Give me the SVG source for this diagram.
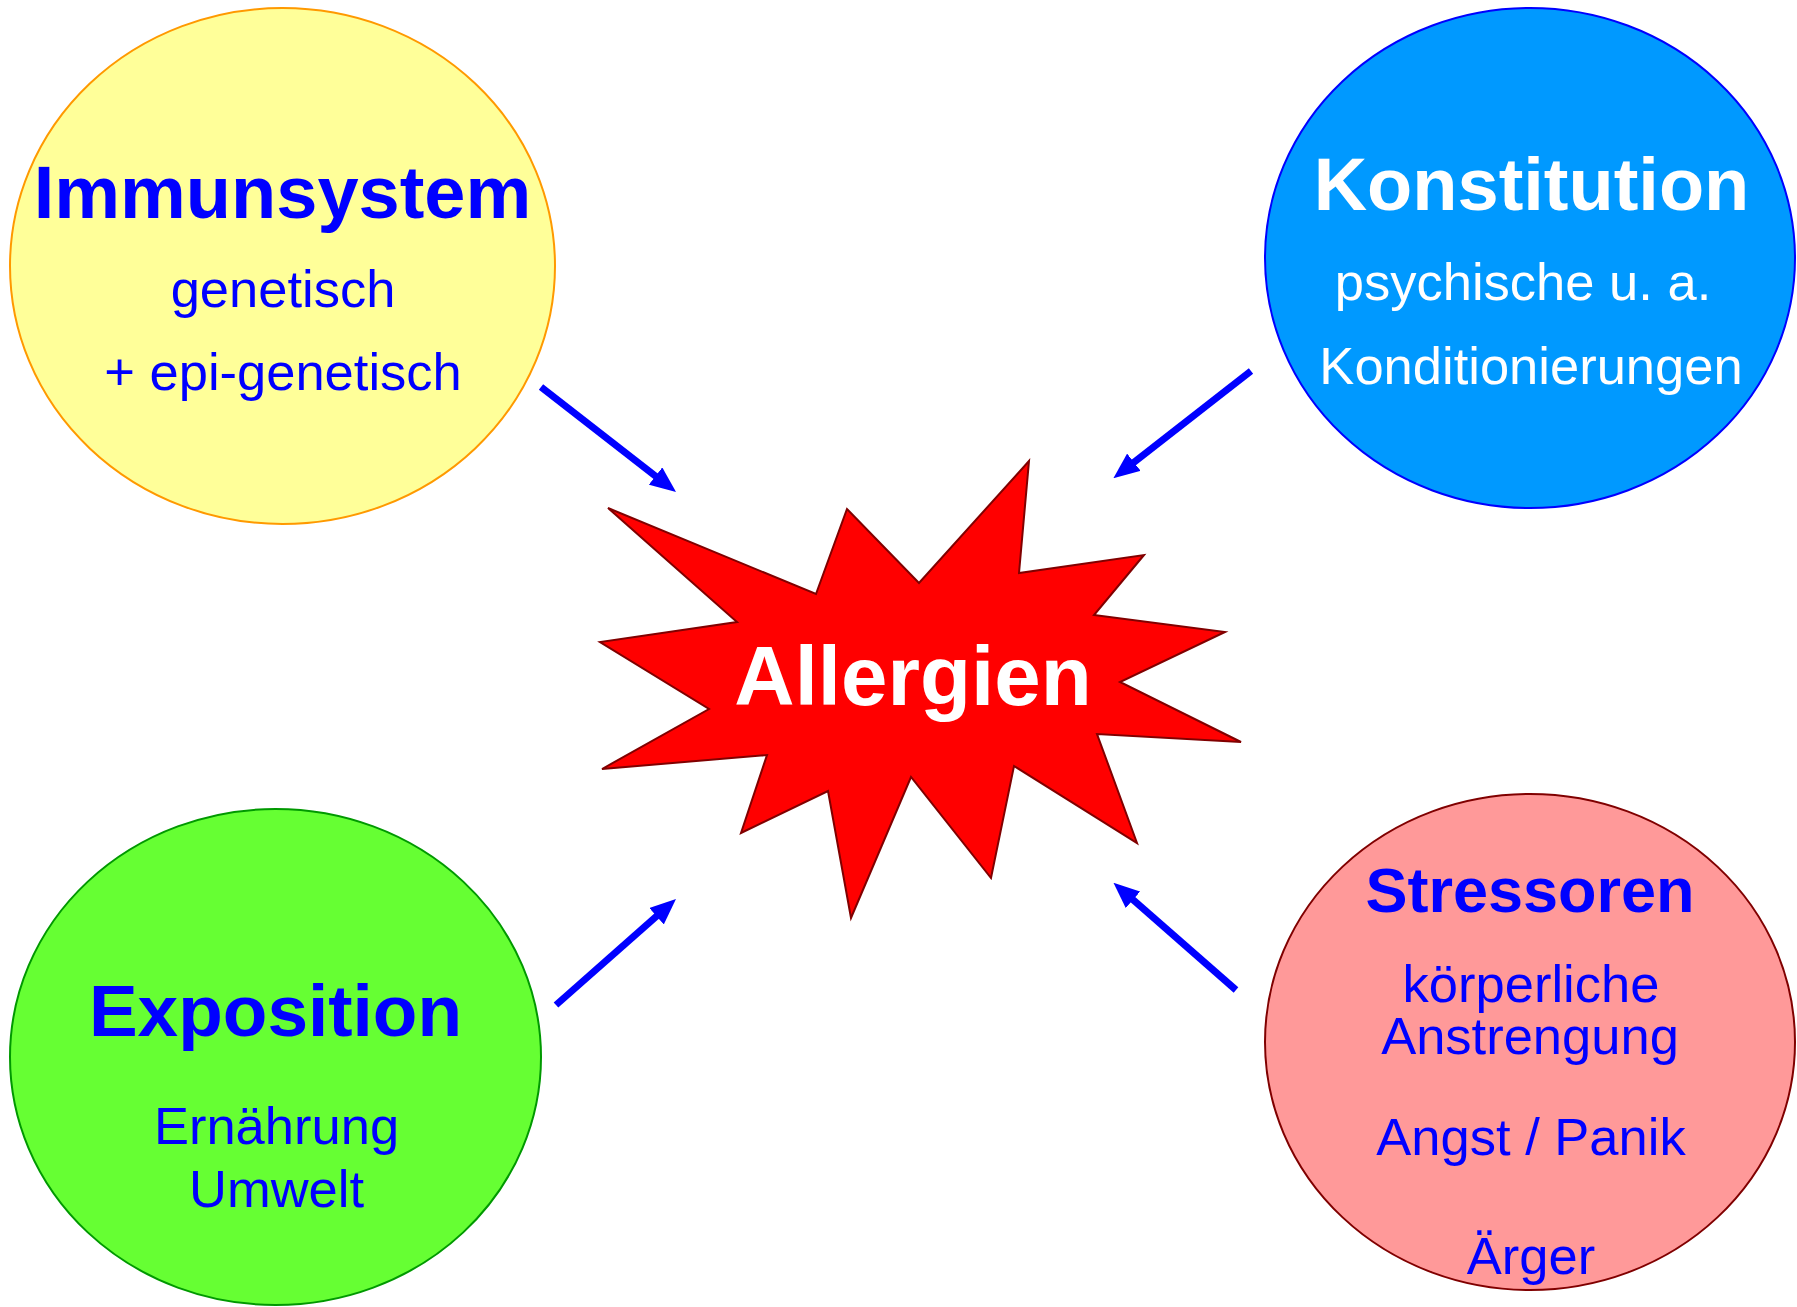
<svg xmlns="http://www.w3.org/2000/svg" width="1797" height="1307" viewBox="0 0 1797 1307">
<style>
text{font-family:"Liberation Sans",Arial,sans-serif;text-anchor:middle}
.t{font-weight:bold;font-size:74px}
.s{font-size:52.5px}
.b{fill:#0000FF}
.w{fill:#FFFFFF}
.arr{stroke:#0000FF;stroke-width:7;fill:none;marker-end:url(#ah)}
</style>
<defs>
<marker id="ah" viewBox="0 0 26 22" refX="10" refY="11" markerWidth="26" markerHeight="22" markerUnits="userSpaceOnUse" orient="auto">
<path d="M0,0 L26,11 L0,22 z" fill="#0000FF"/>
</marker>
</defs>
<rect width="1797" height="1307" fill="#FFFFFF"/>
<g id="immunsystem">
<ellipse cx="282.5" cy="266" rx="272.5" ry="258" fill="#FFFF99" stroke="#FF9900" stroke-width="2"/>
<text class="t b" x="282.5" y="218">Immunsystem</text>
<text class="s b" x="283" y="307">genetisch</text>
<text class="s b" x="283" y="390">+ epi-genetisch</text>
</g>
<g id="konstitution">
<ellipse cx="1530" cy="258" rx="265" ry="250" fill="#0099FF" stroke="#0000FF" stroke-width="2"/>
<text class="t w" x="1531.5" y="209.5">Konstitution</text>
<text class="s w" x="1523" y="300">psychische u. a.</text>
<text class="s w" x="1531" y="384">Konditionierungen</text>
</g>
<g id="exposition">
<ellipse cx="275.5" cy="1057" rx="265.5" ry="248" fill="#66FF33" stroke="#009900" stroke-width="2"/>
<text class="t b" x="275.5" y="1036" style="font-size:73px">Exposition</text>
<text class="s b" x="276.5" y="1144">Ernährung</text>
<text class="s b" x="276.5" y="1207">Umwelt</text>
</g>
<g id="stressoren">
<ellipse cx="1530" cy="1042" rx="265" ry="248" fill="#FF9999" stroke="#800000" stroke-width="2"/>
<text class="t b" x="1530" y="912" style="font-size:63px">Stressoren</text>
<text class="s b" x="1531" y="1002">körperliche</text>
<text class="s b" x="1530" y="1054">Anstrengung</text>
<text class="s b" x="1531" y="1155">Angst / Panik</text>
<text class="s b" x="1531" y="1274">Ärger</text>
</g>
<g id="allergien">
<polygon points="608,508 816,594 847,509 919,583 1029,461 1019,573 1144,555 1094,615 1225,632 1120,682 1241,742 1097,734 1137,843 1014,766 991,878 911,777 851,918 828,791 741,833 767,755 602,769 709,709 600,642 737,622" fill="#FF0000" stroke="#800000" stroke-width="2" stroke-linejoin="miter"/>
<text class="w" x="913" y="705" style="font-weight:bold;font-size:83.5px">Allergien</text>
</g>
<g id="connectors">
<line class="arr" x1="541" y1="387" x2="663.4" y2="482.2"/>
<line class="arr" x1="1251" y1="371" x2="1126" y2="468.4"/>
<line class="arr" x1="556" y1="1005" x2="664" y2="909.6"/>
<line class="arr" x1="1236" y1="990" x2="1125.5" y2="893.2"/>
</g>
</svg>
